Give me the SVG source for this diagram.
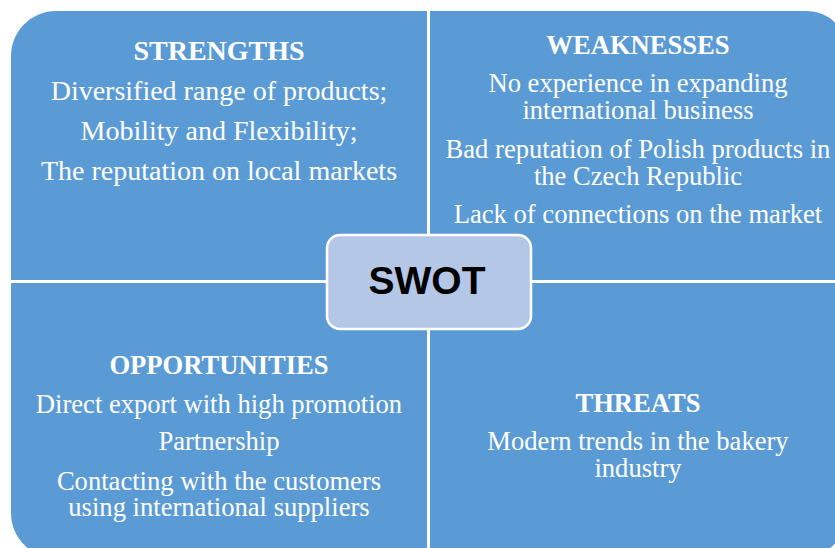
<svg xmlns="http://www.w3.org/2000/svg" width="835" height="548" viewBox="0 0 835 548">
  <style>
    .quad { fill: #5b9bd5; }
    .title { font-family: "Liberation Serif", "Times New Roman", serif; font-weight: bold; font-size: 26.6px; fill: #ffffff; text-anchor: middle; }
    .body { font-family: "Liberation Serif", "Times New Roman", serif; font-size: 26.6px; fill: #ffffff; text-anchor: middle; }
    #strengths .title, #strengths .body { font-size: 28px; }
    .hub { fill: #b4c7e7; stroke: #ffffff; stroke-width: 2.5; }
    .hub-label { font-family: "Liberation Sans", Arial, sans-serif; font-weight: bold; font-size: 39px; fill: #000000; text-anchor: middle; }
  </style>
  <rect x="0" y="0" width="835" height="548" fill="#ffffff"/>

  <g id="strengths">
    <path class="quad" d="M11,56 A45,45 0 0 1 56,11 H427 V280 H11 Z"/>
    <text class="title" x="219" y="60">STRENGTHS</text>
    <text class="body" x="219" y="100">Diversified range of products;</text>
    <text class="body" x="219" y="140">Mobility and Flexibility;</text>
    <text class="body" x="219" y="180">The reputation on local markets</text>
  </g>

  <g id="weaknesses">
    <path class="quad" d="M430,11 H807 A40,40 0 0 1 847,51 V280 H430 Z"/>
    <text class="title" x="638" y="54">WEAKNESSES</text>
    <text class="body" x="638" y="92">No experience in expanding</text>
    <text class="body" x="638" y="119">international business</text>
    <text class="body" x="638" y="158">Bad reputation of Polish products in</text>
    <text class="body" x="638" y="185">the Czech Republic</text>
    <text class="body" x="638" y="223">Lack of connections on the market</text>
  </g>

  <g id="opportunities">
    <path class="quad" d="M11,283 H427 V558 H56 A45,45 0 0 1 11,513 Z"/>
    <text class="title" x="219" y="374">OPPORTUNITIES</text>
    <text class="body" x="219" y="413">Direct export with high promotion</text>
    <text class="body" x="219" y="450">Partnership</text>
    <text class="body" x="219" y="490">Contacting with the customers</text>
    <text class="body" x="219" y="516">using international suppliers</text>
  </g>

  <g id="threats">
    <path class="quad" d="M430,283 H847 V513 A45,45 0 0 1 802,558 H430 Z"/>
    <text class="title" x="638" y="412">THREATS</text>
    <text class="body" x="638" y="450">Modern trends in the bakery</text>
    <text class="body" x="638" y="477">industry</text>
  </g>

  <g id="connectors"></g>

  <g id="swot">
    <rect class="hub" x="327" y="235" width="204" height="94" rx="13" ry="13"/>
    <text class="hub-label" x="427" y="294">SWOT</text>
  </g>
</svg>
